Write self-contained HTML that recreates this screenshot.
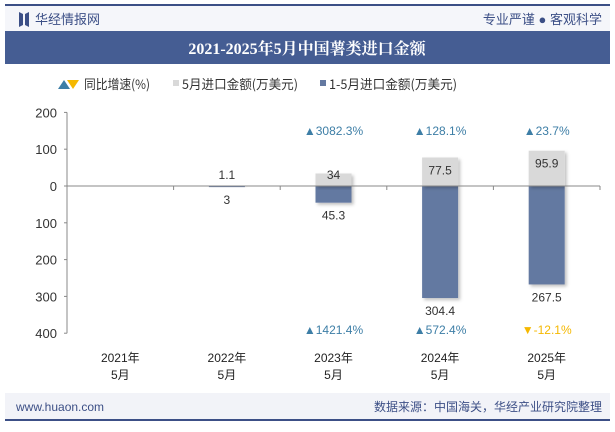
<!DOCTYPE html>
<html><head><meta charset="utf-8"><style>
body{margin:0;width:615px;height:427px;background:#fff;font-family:"Liberation Sans","Noto Sans CJK SC",sans-serif;overflow:hidden}
</style></head><body>
<svg width="615" height="427" xmlns="http://www.w3.org/2000/svg">
<defs><filter id="sh" x="-20%" y="-20%" width="150%" height="150%"><feDropShadow dx="2" dy="2" stdDeviation="1.5" flood-color="#000" flood-opacity="0.25"/></filter></defs>
<rect x="5" y="4" width="605" height="2" fill="#3c4f86"/>
<rect x="5" y="6" width="605" height="25" fill="#f5f6fa"/>
<path d="M19 12 L23 14 L23 25 L19 27 Z M29 12 L25 14 L25 25 L29 27 Z" fill="#3c4f86"/>
<text x="35" y="24" font-size="13" fill="#3c4f86">华经情报网</text>
<text x="602" y="24" font-size="13" fill="#3c4f86" text-anchor="end">专业严谨 ● 客观科学</text>
<rect x="5" y="31" width="605" height="33" fill="#455d93"/>
<text x="307" y="54" font-size="16" font-weight="bold" fill="#fff" text-anchor="middle" font-family="Liberation Serif,Noto Serif CJK SC,serif">2021-2025年5月中国薯类进口金额</text>
<g font-size="13" fill="#333" font-family="Noto Sans CJK SC,sans-serif">
<path d="M58 89 L64 80 L70 89 Z" fill="#3d7ea6"/><path d="M67 80 L79 80 L73 89 Z" fill="#f5b800"/>
<text x="84" y="89" textLength="66" lengthAdjust="spacingAndGlyphs">同比增速(%)</text>
<rect x="173" y="80" width="6" height="6" fill="#d9d9d9"/><text x="182" y="89" textLength="116" lengthAdjust="spacingAndGlyphs">5月进口金额(万美元)</text>
<rect x="320" y="80" width="6" height="6" fill="#6479a1"/><text x="329" y="89" textLength="128" lengthAdjust="spacingAndGlyphs">1-5月进口金额(万美元)</text>
</g>
<g id="plot"></g>
<rect x="5" y="393" width="605" height="26" fill="#f2f3f8"/>
<rect x="5" y="419" width="605" height="2" fill="#3c4f86"/>
<text x="16" y="411" font-size="12" fill="#3c4f86">www.huaon.com</text>
<text x="602" y="411" font-size="12" fill="#3c4f86" text-anchor="end">数据来源：中国海关，华经产业研究院整理</text>
</svg>
<script>
const categories=["2021年|5月","2022年|5月","2023年|5月","2024年|5月","2025年|5月"];
const mayValues=[0,1.1,34,77.5,95.9];
const ytdValues=[0,3,45.3,304.4,267.5];
const mayGrowth=[null,null,3082.3,128.1,23.7];
const ytdGrowth=[null,null,1421.4,572.4,-12.1];
const yTicks=[200,100,0,100,200,300,400];
const yTickVals=[200,100,0,-100,-200,-300,-400];
const NS="http://www.w3.org/2000/svg";
const g=document.getElementById('plot');
const x0=67,x1=600,y0=186,k=0.368;
const y=v=>y0-v*k;
const step=(x1-x0)/categories.length;
const cx=i=>x0+step*(i+0.5);
function mk(t,a,txt){const e=document.createElementNS(NS,t);for(const n in a)e.setAttribute(n,a[n]);if(txt!=null)e.textContent=txt;g.appendChild(e);return e;}
let e=mk('line',{x1:x0,y1:y(200),x2:x0,y2:y(-400),stroke:'#888'});


yTickVals.forEach((v,i)=>{
 let t=mk('text',{x:x0-10,y:y(v)+5,'font-size':13,fill:'#333','text-anchor':'end'},yTicks[i]);
 
 
 mk('line',{x1:x0-3,y1:y(v),x2:x0,y2:y(v),stroke:'#888'});
});
categories.forEach((c,i)=>{
 const X=cx(i),w=36;
 if(ytdValues[i]>0){let b=mk('rect',{x:X-w/2,y:y0,width:w,height:ytdValues[i]*k,fill:'#6479a1',filter:'url(#sh)'});
 
 }
 if(mayValues[i]>0){let b=mk('rect',{x:X-w/2,y:y(mayValues[i]),width:w,height:mayValues[i]*k,fill:'#d9d9d9',filter:'url(#sh)'});
 
 }
 if(mayValues[i]>0){let t=mk('text',{x:X,y:Math.min(y(mayValues[i])+17,179),'font-size':12,fill:'#333','text-anchor':'middle'},mayValues[i]);
 
 }
 if(ytdValues[i]>0){let t=mk('text',{x:X,y:y(-ytdValues[i])+17,'font-size':12,fill:'#333','text-anchor':'middle'},ytdValues[i]);
 
 }
 if(mayGrowth[i]!=null){const up=mayGrowth[i]>=0;let t=mk('text',{x:X,y:135,'font-size':12,fill:up?'#3d7ea6':'#f5b800','text-anchor':'middle'},(up?'▲':'▼')+mayGrowth[i]+'%');
 
 }
 if(ytdGrowth[i]!=null){const up=ytdGrowth[i]>=0;let t=mk('text',{x:X,y:334,'font-size':12,fill:up?'#3d7ea6':'#f5b800','text-anchor':'middle'},(up?'▲':'▼')+ytdGrowth[i]+'%');
 
 }
 const p=c.split('|');
 let t1=mk('text',{x:X,y:362,'font-size':12,fill:'#222','text-anchor':'middle'},p[0]);
 
 
 let t2=mk('text',{x:X,y:379,'font-size':12,fill:'#222','text-anchor':'middle'},p[1]);
 
 
 mk('line',{x1:x0+step*(i+1),y1:y0,x2:x0+step*(i+1),y2:y0+4,stroke:'#888'});
});
e=mk('line',{x1:x0,y1:y0,x2:x1,y2:y0,stroke:'#888'});


</script>
</body></html>
